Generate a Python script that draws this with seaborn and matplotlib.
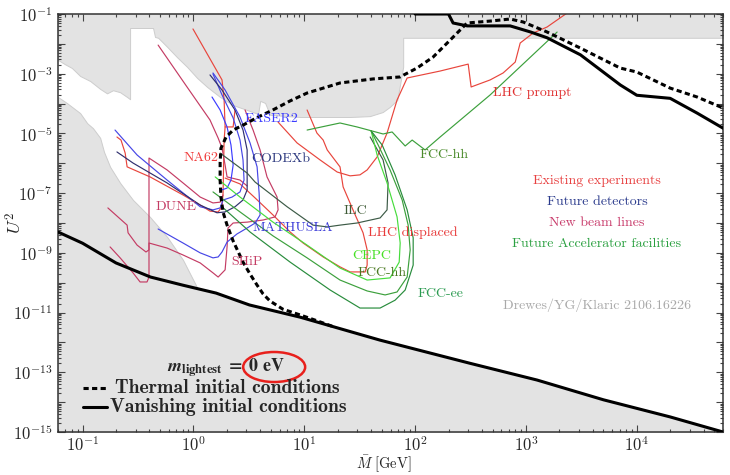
import numpy as np
import matplotlib
matplotlib.use("Agg")
import matplotlib.pyplot as plt
import seaborn as sns
from matplotlib.patches import Ellipse
from matplotlib.ticker import FixedLocator, FixedFormatter, LogLocator, NullFormatter

# ---------------- excluded regions (grey) ----------------
# lower edge of the region excluded from above
direct_M = [0.06, 0.069, 0.080, 0.095, 0.117, 0.144, 0.166, 0.188, 0.218, 0.252, 0.268, 0.268,
            0.432, 0.45, 0.48, 0.58, 0.71, 0.875, 1.08, 1.33, 1.74, 2.28, 3.05, 3.83, 4.0,
            4.43, 4.9, 9.2, 25.9, 39, 51, 59, 69, 73, 78, 78, 6.0e4]
direct_U2 = [2.9e-3, 2.1e-3, 1.56e-3, 8.4e-4, 5.7e-4, 3.1e-4, 2.2e-4, 2.8e-4, 2.4e-4, 1.66e-4, 1.4e-4, 3.4e-2,
             3.4e-2, 1.7e-2, 1.6e-2, 7.9e-3, 3.6e-3, 1.7e-3, 7.2e-4, 3.6e-4, 1.66e-4, 8.9e-5, 6.1e-5, 4.5e-5, 1.23e-4,
             1.05e-4, 4.2e-5, 3.55e-5, 3.55e-5, 3.8e-5, 5.2e-5, 7.7e-5, 1.32e-4, 4.2e-4, 1.7e-3, 1.6e-2, 1.6e-2]
# upper edge of the BBN-excluded region
bbn_M = [0.06, 0.072, 0.095, 0.11, 0.124, 0.144, 0.156, 0.177, 0.218, 0.285, 0.405, 0.58, 0.805, 1.1]
bbn_U2 = [1.66e-4, 1.05e-4, 4.8e-5, 2.2e-5, 1.5e-5, 7.1e-6, 2.4e-6, 7.6e-7, 2.2e-7, 5.9e-8, 1.6e-8, 3.4e-9, 5.8e-10, 6.0e-11]

# ---------------- leptogenesis boundaries ----------------
vanishing_low_M = [0.06, 0.1, 0.2, 0.41, 0.8, 1.6, 3.2, 9.2, 48, 313, 1260, 5000, 2.0e4, 6.0e4]
vanishing_low_U2 = [5.0e-9, 2.1e-9, 4.6e-10, 1.55e-10, 8.3e-11, 4.5e-11, 1.8e-11, 7.0e-12, 1.2e-12,
                    2.0e-13, 5.5e-14, 1.2e-14, 3.2e-15, 1.0e-15]
vanishing_high_M = [100, 200, 220, 295, 720, 1100, 1550, 3100, 7100, 1.0e4, 2.0e4, 3.5e4, 6.0e4]
vanishing_high_U2 = [0.1, 0.1, 0.05, 0.04, 0.04, 0.025, 0.016, 4.3e-3, 4.2e-4, 1.9e-4, 1.5e-4, 4.8e-5, 1.5e-5]

thermal_M = [17.8, 12.5, 9.2, 6.4, 4.9, 4.25, 3.75, 3.24, 2.8, 2.28, 2.01, 1.85, 1.77, 1.74, 1.74, 1.77,
             1.97, 2.28, 2.8, 3.83, 5.2, 7.45, 10.6, 21, 41.8, 73, 104, 145, 207, 294, 475, 720, 944,
             1550, 3080, 7080, 1.0e4, 2.0e4, 3.5e4, 6.0e4]
thermal_U2 = [3.5e-12, 5.6e-12, 8.3e-12, 1.3e-11, 2.45e-11, 4.2e-11, 8.3e-11, 1.95e-10, 4.9e-10, 2.5e-9,
              8.5e-9, 2.3e-8, 7.4e-8, 2.7e-7, 1.1e-6, 3.2e-6, 7.6e-6, 1.3e-5, 1.9e-5, 3.55e-5, 6.1e-5,
              1.23e-4, 2.26e-4, 4.9e-4, 6.7e-4, 7.8e-4, 1.55e-3, 3.6e-3, 1.34e-2, 5.0e-2, 5.8e-2, 6.8e-2,
              5.4e-2, 2.5e-2, 7.3e-3, 1.55e-3, 1.14e-3, 3.3e-4, 1.66e-4, 7.1e-5]

# ---------------- existing experiments (red) ----------------
na62_M = [0.99, 1.81, 1.89, 1.93, 1.89, 1.85, 1.81, 1.67, 1.41, 1.15, 0.805, 0.406, 0.252, 0.242, 0.222, 0.204]
na62_U2 = [3.16e-2, 6.2e-4, 1.32e-4, 1.65e-5, 6.0e-6, 1.02e-7, 3.5e-8, 2.35e-8, 2.5e-8, 4.0e-8, 8.7e-8,
           3.5e-7, 7.6e-7, 2.2e-6, 6.0e-6, 7.6e-6]
na62_step_M = [1.93, 2.28, 2.37]
na62_step_U2 = [1.65e-5, 1.65e-5, 6.1e-5]
lhc_prompt_M = [5.80, 8.61, 13.9, 19.8, 25.9, 31.8, 36.9, 45.4, 55.8, 68.7, 84.7, 168, 301, 320, 475,
                622, 800, 887, 1160, 1550, 2350]
lhc_prompt_U2 = [2.4e-5, 4.8e-6, 1.29e-6, 5.1e-7, 3.8e-7, 4.1e-7, 6.0e-7, 1.63e-6, 1.03e-5, 1.32e-4,
                 7.2e-4, 1.23e-3, 2.1e-3, 3.6e-4, 6.2e-4, 1.06e-3, 2.46e-3, 1.07e-2, 2.31e-2, 3.67e-2, 0.108]
lhc_displaced_M = [1.93, 2.63, 3.60, 5.22, 7.45, 9.75, 14.8, 21.0, 25.9, 35.4, 36.9, 36.9, 33.9, 27.5,
                   22.4, 21.0, 16.1, 14.8, 13.0, 10.6]
lhc_displaced_U2 = [3.2e-7, 2.04e-7, 6.9e-8, 1.86e-8, 5.0e-9, 2.14e-9, 7.3e-10, 3.4e-10, 2.3e-10, 2.3e-10,
                    3.9e-10, 1.26e-9, 4.7e-9, 2.75e-8, 1.62e-7, 7.6e-7, 2.8e-6, 6.0e-6, 1.03e-5, 6.1e-5]

# ---------------- new beam lines (crimson) ----------------
beam_diag_M = [0.48, 0.875, 1.41, 1.67, 1.81, 1.93, 2.01, 2.63, 3.05]
beam_diag_U2 = [9.1e-3, 3.6e-4, 2.82e-5, 7.0e-6, 3.25e-6, 8.7e-7, 3.5e-7, 2.75e-7, 1.74e-7]
ship_M = [2.92, 3.45, 3.99, 4.61, 5.68, 5.80, 5.44, 4.25, 3.05, 2.28, 2.05, 2.01, 1.93, 1.67, 1.50,
          1.15, 0.805, 0.578, 0.397, 0.397, 0.381, 0.330, 0.285, 0.218, 0.177]
ship_U2 = [6.1e-5, 1.3e-5, 2.8e-6, 3.5e-7, 7.4e-8, 2.75e-8, 1.6e-8, 1.26e-8, 1.07e-8, 1.0e-8, 6.8e-9,
           1.58e-9, 2.7e-10, 1.55e-10, 2.14e-10, 4.6e-10, 8.5e-10, 1.45e-9, 2.14e-9, 1.55e-10, 1.06e-10,
           1.06e-10, 2.14e-10, 6.8e-10, 1.58e-9]
dune_M = [0.169, 0.252, 0.257, 0.310, 0.373, 0.397, 0.397, 0.578, 0.805, 1.15, 1.50, 1.74, 1.85]
dune_U2 = [3.2e-8, 8.5e-9, 4.7e-9, 1.82e-9, 1.07e-9, 1.26e-9, 1.5e-6, 6.0e-7, 2.2e-7, 7.4e-8, 4.7e-8,
           5.0e-8, 8.7e-8]

# ---------------- future detectors (blue) ----------------
det_a_M = [0.196, 0.310, 0.578, 1.15, 1.50, 1.74, 1.85, 2.23, 2.63, 2.86, 2.80, 2.63, 2.28, 1.81, 1.50]
det_a_U2 = [1.3e-5, 1.9e-6, 2.75e-7, 3.5e-8, 2.75e-8, 3.2e-8, 5.9e-8, 7.4e-8, 1.1e-7, 2.75e-7, 1.29e-6,
            6.0e-6, 3.3e-5, 1.95e-4, 9.8e-4]
codexb_M = [0.204, 0.285, 0.578, 1.15, 1.63, 1.93, 2.37, 2.80, 3.05, 3.05, 2.80, 2.37, 1.81, 1.41]
codexb_U2 = [2.4e-6, 1.02e-6, 2.2e-7, 4.0e-8, 2.2e-8, 2.35e-8, 3.5e-8, 5.9e-8, 1.29e-7, 2.8e-6, 1.3e-5,
             6.1e-5, 2.85e-4, 9.1e-4]
mathusla_M = [0.480, 0.805, 1.15, 1.50, 1.67, 1.81, 2.01, 2.47, 3.05, 3.60, 3.99, 3.91, 3.75, 3.24, 2.63,
              1.93, 1.50]
mathusla_U2 = [6.3e-9, 2.14e-9, 1.0e-9, 6.8e-10, 7.3e-10, 1.07e-9, 2.3e-9, 4.3e-9, 6.8e-9, 1.0e-8, 1.86e-8,
               1.02e-7, 7.6e-7, 4.8e-6, 3.55e-5, 2.85e-4, 1.06e-3]
faser2_M = [1.47, 1.74, 2.01, 2.18, 2.28, 2.18, 2.01, 1.81]
faser2_U2 = [1.66e-4, 6.1e-5, 1.65e-5, 4.1e-6, 8.7e-7, 2.75e-7, 1.48e-7, 1.29e-7]

# ---------------- future accelerator facilities (green) ----------------
ilc_M = [1.74, 3.05, 3.60, 7.0, 12.0, 16.1, 21.0, 29.9, 48.3, 55.8, 57, 51.4, 39.3]
ilc_U2 = [2.2e-6, 4.7e-7, 2.35e-7, 3.5e-8, 8.5e-9, 7.4e-9, 8.5e-9, 1.0e-8, 1.48e-8, 2.75e-8, 2.2e-7,
          1.29e-6, 7.6e-6]
cepc_M = [1.57, 2.63, 5.22, 10.6, 21.0, 36.9, 59.4, 71.8, 73.3, 68.7, 55.8, 45.4, 40.1]
cepc_U2 = [3.5e-7, 7.4e-8, 1.07e-8, 1.82e-9, 3.1e-10, 1.23e-10, 1.45e-10, 4.9e-10, 2.14e-9, 1.6e-8,
           2.2e-7, 1.9e-6, 1.21e-5]
fcchh_low_M = [1.50, 2.63, 5.22, 10.6, 21.0, 36.9, 53.6, 68.7, 84.7, 90.2, 86.5, 76.4, 59.4, 46.4, 40.1]
fcchh_low_U2 = [1.1e-7, 2.35e-8, 3.7e-9, 6.8e-10, 1.23e-10, 5.3e-11, 3.9e-11, 4.9e-11, 1.55e-10, 1.26e-9,
                8.5e-9, 5.9e-8, 6.0e-7, 4.1e-6, 1.21e-5]
fccee_M = [1.81, 3.24, 7.45, 17.1, 31.8, 48.3, 65.9, 81.3, 96.0, 96.0, 84.7, 65.9, 50.4, 40.1]
fccee_U2 = [3.5e-8, 5.0e-9, 4.9e-10, 5.7e-11, 1.42e-11, 1.42e-11, 2.6e-11, 5.7e-11, 3.9e-10, 3.2e-9,
            2.75e-8, 4.1e-7, 4.1e-6, 1.21e-5]
fcchh_up_M = [10.6, 21.0, 29.9, 51.4, 62.0, 81.3, 94.0, 123, 168, 475, 1910]
fcchh_up_U2 = [1.3e-5, 2.24e-5, 1.65e-5, 9.6e-6, 1.12e-5, 3.8e-6, 6.0e-6, 2.8e-6, 7.6e-6, 1.95e-4, 2.49e-2]

# axis ranges and tick labels
x_range = (0.06, 6.0e4)
y_range = (1e-15, 1e-1)
x_tick_exp = [-1, 0, 1, 2, 3, 4]
y_tick_exp = list(range(-15, 0))

# ---------------- style ----------------
sns.set_theme(style="ticks")
plt.rcParams["font.family"] = ["cmr10", "DejaVu Serif"]
plt.rcParams["mathtext.fontset"] = "cm"
plt.rcParams["axes.unicode_minus"] = False

RED = "#e8453c"
CRIMSON = "#c43c64"
BLUE = "#4646e6"
NAVY = "#2f2f6e"
FASERBLUE = "#3c3cff"
ILCGREEN = "#3c5a46"
CEPCGREEN = "#46dc3c"
HHGREEN = "#3ca03c"
EEGREEN = "#288c3c"
GREY = "#e3e3e3"

fig = plt.figure(figsize=(7.3, 4.75), dpi=100)
ax = fig.add_axes([0.0795, 0.0905, 0.911, 0.880])
ax.set_xscale("log")
ax.set_yscale("log")
ax.set_xlim(*x_range)
ax.set_ylim(*y_range)

# excluded regions
ax.fill_between(direct_M, direct_U2, 1.0, facecolor=GREY, edgecolor="#cdcdcd", lw=0.7, zorder=0.5)
ax.fill_between(bbn_M, bbn_U2, 1e-16, facecolor=GREY, edgecolor="#cdcdcd", lw=0.7, zorder=0.5)
ax.fill_between(vanishing_low_M, vanishing_low_U2, 1e-16, facecolor=GREY, lw=0, zorder=0.5)


def trace(m, u2, color, lw=0.85, zorder=2, **kw):
    sns.lineplot(x=m, y=u2, ax=ax, color=color, lw=lw, sort=False, estimator=None,
                 legend=False, zorder=zorder, **kw)


# sensitivity curves
for m, u, c in [
    (na62_M, na62_U2, RED), (na62_step_M, na62_step_U2, RED),
    (lhc_prompt_M, lhc_prompt_U2, RED), (lhc_displaced_M, lhc_displaced_U2, RED),
    (beam_diag_M, beam_diag_U2, CRIMSON), (ship_M, ship_U2, CRIMSON), (dune_M, dune_U2, CRIMSON),
    (det_a_M, det_a_U2, BLUE), (codexb_M, codexb_U2, NAVY), (mathusla_M, mathusla_U2, BLUE),
    (faser2_M, faser2_U2, FASERBLUE),
    (ilc_M, ilc_U2, ILCGREEN), (cepc_M, cepc_U2, CEPCGREEN), (fcchh_low_M, fcchh_low_U2, HHGREEN),
    (fccee_M, fccee_U2, EEGREEN), (fcchh_up_M, fcchh_up_U2, HHGREEN),
]:
    trace(m, u, c)

# leptogenesis boundaries
DOTS = (0, (1.7, 1.1))
trace(vanishing_low_M, vanishing_low_U2, "black", lw=2.2, zorder=4)
trace(vanishing_high_M, vanishing_high_U2, "black", lw=2.2, zorder=4)
trace(thermal_M, thermal_U2, "black", lw=2.2, zorder=5, linestyle=DOTS)

# ticks
ax.xaxis.set_major_locator(FixedLocator([10.0 ** k for k in x_tick_exp]))
ax.xaxis.set_major_formatter(FixedFormatter([r"$10^{%d}$" % k for k in x_tick_exp]))
ax.yaxis.set_major_locator(FixedLocator([10.0 ** k for k in y_tick_exp]))
ax.yaxis.set_major_formatter(FixedFormatter([r"$10^{%d}$" % k if k % 2 else "" for k in y_tick_exp]))
for axis in (ax.xaxis, ax.yaxis):
    axis.set_minor_locator(LogLocator(base=10, subs=np.arange(2, 10), numticks=200))
    axis.set_minor_formatter(NullFormatter())
ax.tick_params(which="both", direction="in", top=True, right=True, color="#444444", labelsize=12,
               width=0.8)
ax.tick_params(which="major", length=5, pad=4)
ax.tick_params(axis="x", which="major", pad=2.5)
ax.tick_params(which="minor", length=2.5)
for s in ax.spines.values():
    s.set_color("#333333")
    s.set_linewidth(1.1)

ax.set_xlabel(r"$\bar{M}\ $[GeV]", fontsize=10.5, va="bottom")
ax.set_ylabel(r"$U^2$", fontsize=13)
ax.xaxis.set_label_coords(0.49, -0.1)
ax.yaxis.set_label_coords(-0.05, 0.5)

# curve labels
labels = [
    ("FASER2", 0.281, 0.749, FASERBLUE),
    ("NA62", 0.188, 0.656, "#f03c3c"),
    ("CODEXb", 0.290, 0.653, "#2e3a80"),
    ("DUNE", 0.146, 0.538, CRIMSON),
    ("MATHUSLA", 0.293, 0.488, "#3a3ad8"),
    ("ILC", 0.430, 0.529, "#3d5a35"),
    ("LHC displaced", 0.466, 0.476, "#e83a3a"),
    ("CEPC", 0.442, 0.421, "#44e022"),
    ("FCC-hh", 0.450, 0.380, "#4a7a22"),
    ("FCC-ee", 0.541, 0.330, "#2a9a50"),
    ("SHiP", 0.260, 0.407, CRIMSON),
    ("LHC prompt", 0.654, 0.811, "#e03030"),
    ("FCC-hh", 0.543, 0.663, "#4a8a2a"),
]
for txt, x, y, c in labels:
    ax.text(x, y, txt, color=c, fontsize=10, ha="left", va="center", transform=ax.transAxes, zorder=6)

groups = [
    ("Existing experiments", 0.600, "#e84040"),
    ("Future detectors", 0.550, "#2a3a8c"),
    ("New beam lines", 0.500, "#c83a6a"),
    ("Future Accelerator facilities", 0.450, "#2aa040"),
]
for txt, y, c in groups:
    ax.text(0.8105, y, txt, color=c, fontsize=10, ha="center", va="center", transform=ax.transAxes)
ax.text(0.8105, 0.304, "Drewes/YG/Klaric 2106.16226", color="#a9a9a9", fontsize=10,
        ha="center", va="center", transform=ax.transAxes)

# light-neutrino mass note and line key
ax.text(0.253, 0.153, r"$\mathbfit{m}_{\mathbf{lightest}}\ \mathbf{=\ 0\ eV}$", fontsize=13,
        math_fontfamily="stix", ha="center", va="center", transform=ax.transAxes, zorder=6)
ax.add_patch(Ellipse((0.325, 0.1555), 0.0932, 0.0718, transform=ax.transAxes, fill=False,
                     ec="#e8201c", lw=1.8, zorder=6))
ax.plot([0.0376, 0.0737], [0.105, 0.105], transform=ax.transAxes, color="black", lw=2.2,
        linestyle=DOTS, zorder=6)
ax.plot([0.0376, 0.0737], [0.0598, 0.0598], transform=ax.transAxes, color="black", lw=2.2, zorder=6)
ax.text(0.0857, 0.105, "Thermal initial conditions", fontfamily="cmb10", fontsize=14.2,
        ha="left", va="center", transform=ax.transAxes, zorder=6)
ax.text(0.078, 0.0598, "Vanishing initial conditions", fontfamily="cmb10", fontsize=14.2,
        ha="left", va="center", transform=ax.transAxes, zorder=6)

fig.savefig("out.png", dpi=100)
